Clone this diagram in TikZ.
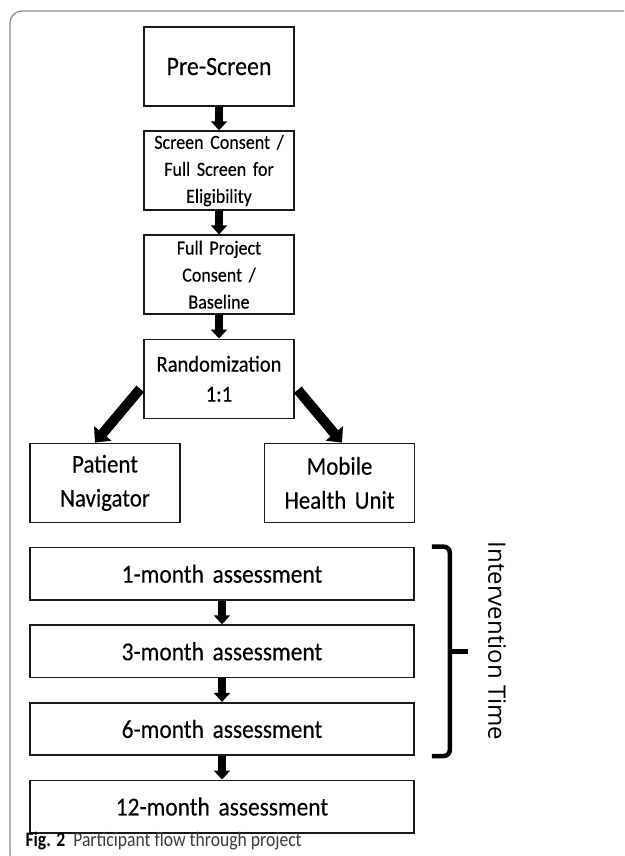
\documentclass[tikz,border=0pt]{standalone}
\usepackage{fontspec}
\setmainfont{Carlito}[FakeStretch=0.9, FakeBold=0.25, WordSpace=0.85]
\newfontfamily\capfont{Carlito}[FakeStretch=0.86]
\newfontfamily\sidefont{Open Sans}
\usetikzlibrary{arrows.meta, positioning}
\definecolor{frameGray}{HTML}{8A8A8A}
\definecolor{boxLine}{HTML}{1A1A1A}
\definecolor{capGray}{HTML}{3C3C3C}
\newcommand{\fsz}[2]{\fontsize{#1}{#2}\selectfont}

\begin{document}
\begin{tikzpicture}[x=1pt, y=1pt,
  stage/.style={draw=boxLine, line width=1.6pt, minimum width=150pt,
    minimum height=79pt, inner sep=0pt, align=center, text width=146pt},
  wide/.style={stage, minimum width=384pt, text width=380pt,
    minimum height=52.5pt, font=\fsz{26}{30}},
  flow/.style={line width=8pt, -{Triangle[width=16pt, length=9pt]}},
  split/.style={line width=10pt, -{Triangle[width=22pt, length=12pt]}},
  bracket/.style={line width=4.5pt, rounded corners=6pt},
  node distance=23.5pt]
  \useasboundingbox (0,0) rectangle (624,-856);
  \clip (0,0) rectangle (624,-856);
  \draw[frameGray, line width=1.2pt, rounded corners=12pt]
    (640,-11) -- (10,-11) -- (10,-866) -- (640,-866);

  \node[stage, font=\fsz{26.5}{30}] (pre) at (219,-66.5) {Pre-Screen};
  \node[stage, font=\fsz{20}{27}, below=of pre] (elig)
    {Screen Consent /\\Full Screen for\\Eligibility};
  \node[stage, font=\fsz{20}{27}, below=of elig] (consent)
    {Full Project\\Consent /\\Baseline};
  \node[stage, font=\fsz{22.8}{30}, below=of consent] (rand) {Randomization\\1:1};
  \node[stage, font=\fsz{25.5}{34}, below=of rand, xshift=-114pt] (nav)
    {Patient\\Navigator};
  \node[stage, font=\fsz{25.5}{34}, below=of rand, xshift=120.5pt] (mhu)
    {Mobile\\Health Unit};

  \node[wide, below=of nav.south west, anchor=north west] (m1) {1-month assessment};
  \node[wide, below=of m1] (m3) {3-month assessment};
  \node[wide, below=of m3] (m6) {6-month assessment};
  \node[wide, below=of m6] (m12) {12-month assessment};

  \foreach \a/\b in {pre/elig, elig/consent, consent/rand, m1/m3, m3/m6, m6/m12}
    \draw[flow] (\a) -- (\b);
  \draw[split] ([shift={(-3pt,-10pt)}]rand.west) -- ([xshift=-10pt]nav.north);
  \draw[split] ([shift={(3pt,-11pt)}]rand.east) -- ([xshift=2.5pt]mhu.north);

  \coordinate (bt) at ([xshift=17pt]m1.north east);
  \coordinate (bb) at ([xshift=17pt]m6.south east);
  \path (bt) -- (bb) coordinate[midway] (bm);
  \draw[bracket] (bt) -- ++(18pt,0) |- (bb);
  \draw[bracket] ([xshift=16pt]bm) -- ++(20pt,0);
  \node[rotate=-90, font=\sidefont\fsz{24}{28}] (itime) at (497,-641)
    {Intervention Time};

  \node[anchor=base west, font=\capfont\fsz{20.5}{22}] (cap) at (22,-846)
    {\textbf{Fig. 2}\hspace{8pt}{\color{capGray}Participant flow through project}};
\end{tikzpicture}
\end{document}
